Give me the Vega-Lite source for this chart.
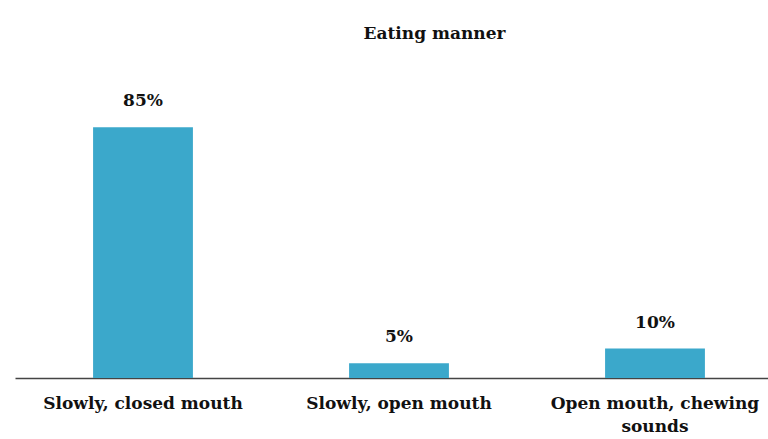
{
  "$schema": "https://vega.github.io/schema/vega-lite/v6.json",
  "width": 753,
  "height": 295,
  "autosize": {"type": "none"},
  "padding": {"left": 15, "top": 83, "right": 0, "bottom": 61},
  "background": "white",
  "title": {
    "text": "Eating manner",
    "font": "DejaVu Serif",
    "fontSize": 17,
    "fontWeight": "bold",
    "color": "#111111",
    "anchor": "middle",
    "dx": 43,
    "baseline": "alphabetic",
    "offset": 27
  },
  "data": {
    "values": [
      {"category": "Slowly, closed mouth", "value": 85, "label": "85%"},
      {"category": "Slowly, open mouth", "value": 5, "label": "5%"},
      {"category": "Open mouth, chewing sounds", "value": 10, "label": "10%"}
    ]
  },
  "config": {
    "view": {"stroke": null}
  },
  "encoding": {
    "x": {
      "field": "category",
      "type": "nominal",
      "sort": null,
      "scale": {"range": [0, 768], "paddingInner": 0.61, "paddingOuter": 0.305},
      "axis": {
        "title": null,
        "labelAngle": 0,
        "ticks": false,
        "domainColor": "#444444",
        "domainWidth": 1.5,
        "labelFont": "DejaVu Serif",
        "labelFontSize": 17,
        "labelFontWeight": "bold",
        "labelColor": "#111111",
        "labelPadding": 17,
        "labelLineHeight": 23,
        "labelLimit": 400,
        "labelExpr": "datum.label == 'Open mouth, chewing sounds' ? ['Open mouth, chewing', 'sounds'] : datum.label"
      }
    },
    "y": {
      "field": "value",
      "type": "quantitative",
      "scale": {"domain": [0, 100]},
      "axis": null
    }
  },
  "layer": [
    {"mark": {"type": "bar", "color": "#3ba8cb"}},
    {
      "mark": {
        "type": "text",
        "baseline": "alphabetic",
        "dy": -21,
        "font": "DejaVu Serif",
        "fontSize": 17,
        "fontWeight": "bold",
        "color": "#111111"
      },
      "encoding": {"text": {"field": "label"}}
    }
  ]
}
